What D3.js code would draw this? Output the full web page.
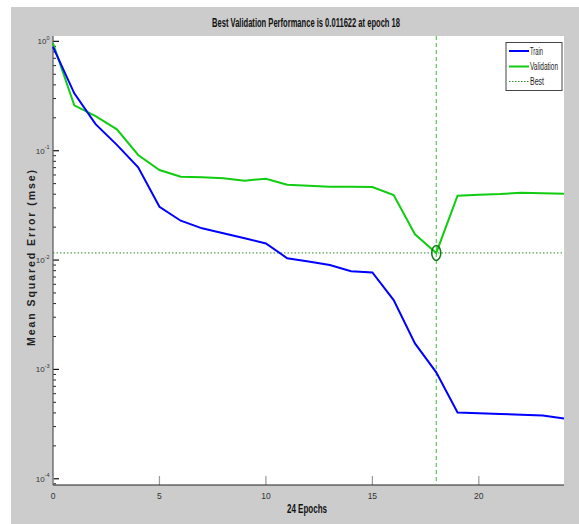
<!DOCTYPE html>
<html><head><meta charset="utf-8">
<script src="https://cdn.jsdelivr.net/npm/d3@7"></script>
<style>
body{margin:0;background:#fff;}
svg{display:block;}
</style></head>
<body>
<svg id="c" width="579" height="524"></svg>
<script>
const epochs = [0,1,2,3,4,5,6,7,8,9,10,11,12,13,14,15,16,17,18,19,20,21,22,23,24];
const train = [0.89,0.335,0.175,0.113,0.0705,0.0307,0.0229,0.0195,0.0176,0.0158,0.0142,0.0104,0.0097,0.0090,0.0079,0.0077,0.0043,0.00173,0.00094,0.000404,0.000398,0.000392,0.000384,0.000378,0.000356];
const validation = [0.96,0.26,0.207,0.157,0.0914,0.0666,0.0578,0.0571,0.0559,0.0532,0.0555,0.0489,0.0478,0.0469,0.0469,0.0466,0.0393,0.0172,0.011622,0.0388,0.0396,0.0402,0.0413,0.0408,0.0404];
const bestEpoch = 18;
const bestValue = 0.011622;
const xTicks = [0,5,10,15,20];
const yTicks = [1,0.1,0.01,0.001,0.0001];
const yExp = ["0","-1","-2","-3","-4"];
const legendLabels = ["Train","Validation","Best"];
const titleText = "Best Validation Performance is 0.011622 at epoch 18";
const xLabel = "24 Epochs";
const yLabel = "Mean Squared Error  (mse)";

const svg = d3.select("#c");
const narrow = "'Liberation Sans Narrow','Arial Narrow','Liberation Sans',Arial,sans-serif";
const L=53,R=564,T=36,B=485;

svg.append("rect").attr("x",11).attr("y",7).attr("width",568).attr("height",517).attr("fill","#cccccc");
svg.append("rect").attr("x",L).attr("y",T).attr("width",R-L).attr("height",B-T).attr("fill","#fff");

const x = d3.scaleLinear().domain([0,24]).range([L,R]);
const y = d3.scaleLog().domain([Math.pow(10,-4.057),Math.pow(10,0.049)]).range([B,T]);

const ga = svg.append("g").attr("transform",`translate(${L},0)`);
const minor=[];
for(let e=-5;e<=0;e++) for(let m=2;m<=9;m++){const v=m*Math.pow(10,e); if(v>=y.domain()[0]&&v<=y.domain()[1]) minor.push(v);}
ga.selectAll("line.mi").data(minor).enter().append("line").attr("x1",0).attr("x2",3)
  .attr("y1",d=>y(d)).attr("y2",d=>y(d)).attr("stroke","#222").attr("stroke-width",1);
ga.selectAll("line.ma").data(yTicks).enter().append("line").attr("x1",0).attr("x2",6)
  .attr("y1",d=>y(d)).attr("y2",d=>y(d)).attr("stroke","#111").attr("stroke-width",1.2);
ga.append("line").attr("x1",0).attr("x2",0).attr("y1",T).attr("y2",B).attr("stroke","#555").attr("stroke-width",1.2);
yTicks.forEach((v,i)=>{
  const t = svg.append("text").attr("x",L-3.5).attr("y",y(v)+3).attr("text-anchor","end")
    .attr("font-family",narrow).attr("font-size",8).attr("fill","#333");
  t.append("tspan").text("10");
  t.append("tspan").attr("dy",-4.5).attr("font-size",5.5).text(yExp[i]);
});

const gx = svg.append("g");
gx.selectAll("line.xt").data(xTicks).enter().append("line")
  .attr("x1",d=>x(d)).attr("x2",d=>x(d)).attr("y1",B).attr("y2",B-9).attr("stroke","#999").attr("stroke-width",1.2);
gx.append("line").attr("x1",L).attr("x2",R).attr("y1",B).attr("y2",B).attr("stroke","#222").attr("stroke-width",1.2);
gx.selectAll("text").data(xTicks).enter().append("text").attr("x",d=>x(d)).attr("y",499)
  .attr("text-anchor","middle").attr("font-family",narrow).attr("font-size",8.5).attr("fill","#333").text(d=>d);

svg.append("line").attr("x1",L).attr("x2",R).attr("y1",y(bestValue)).attr("y2",y(bestValue))
  .attr("stroke","#2e8b2e").attr("stroke-width",1).attr("stroke-dasharray","1.5,2");
svg.append("line").attr("x1",x(bestEpoch)).attr("x2",x(bestEpoch)).attr("y1",T).attr("y2",B)
  .attr("stroke","#3cb83c").attr("stroke-width",1).attr("stroke-dasharray","4,3");

const line = d3.line().x((d,i)=>x(epochs[i])).y(d=>y(d));
svg.append("path").datum(validation).attr("d",line).attr("fill","none").attr("stroke","#11cc11").attr("stroke-width",2);
svg.append("path").datum(train).attr("d",line).attr("fill","none").attr("stroke","#0000ff").attr("stroke-width",2);

svg.append("ellipse").attr("cx",x(bestEpoch)).attr("cy",y(bestValue)).attr("rx",4.5).attr("ry",7.5)
  .attr("fill","none").attr("stroke","#117a11").attr("stroke-width",1.5);

svg.append("text").attr("x",306).attr("y",27).attr("text-anchor","middle")
  .attr("font-family",narrow).attr("font-weight","bold").attr("font-size",12.5).attr("fill","#111")
  .attr("textLength",188).attr("lengthAdjust","spacingAndGlyphs").text(titleText);
svg.append("text").attr("x",307).attr("y",513).attr("text-anchor","middle")
  .attr("font-family",narrow).attr("font-weight","bold").attr("font-size",12.5).attr("fill","#111")
  .attr("textLength",40).attr("lengthAdjust","spacingAndGlyphs").text(xLabel);
svg.append("text").attr("transform","translate(35,258) rotate(-90)").attr("text-anchor","middle")
  .attr("font-family","Arial,'Liberation Sans',sans-serif").attr("font-weight","bold").attr("font-size",10.5)
  .attr("fill","#222").attr("textLength",176).attr("lengthAdjust","spacing").text(yLabel);

const lg = svg.append("g");
lg.append("rect").attr("x",506).attr("y",42.5).attr("width",56).attr("height",48)
  .attr("fill","#fff").attr("stroke","#444").attr("stroke-width",1);
const lgY=[51,66.5,81.5];
const lgW=[13,28,14];
const lgStroke=["#0000ff","#11cc11","#2e8b2e"];
legendLabels.forEach((s,i)=>{
  lg.append("line").attr("x1",509).attr("x2",529).attr("y1",lgY[i]).attr("y2",lgY[i])
    .attr("stroke",lgStroke[i]).attr("stroke-width",i<2?2:1).attr("stroke-dasharray",i==2?"1.5,1.5":null);
  lg.append("text").attr("x",530).attr("y",lgY[i]+3.5).attr("font-family",narrow).attr("font-size",10)
    .attr("fill","#222").attr("textLength",lgW[i]).attr("lengthAdjust","spacingAndGlyphs").text(s);
});
</script>
</body></html>
